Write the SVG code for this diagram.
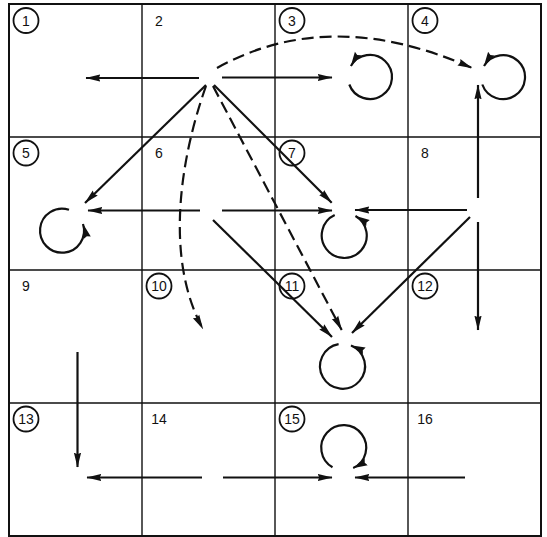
<svg xmlns="http://www.w3.org/2000/svg" width="547" height="537" viewBox="0 0 547 537">
<style>
.grid{fill:none;stroke:#111;stroke-width:1.4}
.border{fill:none;stroke:#111;stroke-width:2}
.lbl{font-family:"Liberation Sans",Arial,sans-serif;font-size:14px;fill:#111;text-anchor:middle}
.ring{fill:none;stroke:#111;stroke-width:1.8}
.c{fill:none;stroke:#111;stroke-width:2.2;marker-end:url(#ah)}
.d{stroke-dasharray:12 6}
</style>
<defs>
<marker id="ah" markerUnits="userSpaceOnUse" viewBox="0 0 14 8" markerWidth="15" markerHeight="8.5" refX="13.5" refY="4" orient="auto">
<path d="M0,0.6 L14,4 L0,7.4 L1.5,4 z" fill="#111"/>
</marker>
</defs>
<rect class="border" x="9" y="4" width="532" height="532"/>
<g class="grid">
<path d="M142,4V536M275,4V536M408,4V536M9,137H541M9,270H541M9,403H541"/>
</g>
<g id="cell1"><circle class="ring" cx="26" cy="20.5" r="12.5"/><text class="lbl" x="26" y="25.5">1</text></g>
<g id="cell2"><text class="lbl" x="159" y="25.5">2</text></g>
<g id="cell3"><circle class="ring" cx="292" cy="20.5" r="12.5"/><text class="lbl" x="292" y="25.5">3</text>
<path class="c" d="M349.3,84.5 A22,22 0 1 0 350.9,66"/></g>
<g id="cell4"><circle class="ring" cx="425" cy="20.5" r="12.5"/><text class="lbl" x="425" y="25.5">4</text>
<path class="c" d="M482.3,84.5 A22,22 0 1 0 484,66"/></g>
<g id="cell5"><circle class="ring" cx="26" cy="153" r="12.5"/><text class="lbl" x="26" y="158">5</text>
<path class="c" d="M69,209.8 A22,22 0 1 0 83,224"/></g>
<g id="cell6"><text class="lbl" x="159" y="158">6</text></g>
<g id="cell7"><circle class="ring" cx="292" cy="153" r="12.5"/><text class="lbl" x="292" y="158">7</text>
<path class="c" d="M334.7,215.1 A22.5,22.5 0 1 0 355.5,216"/></g>
<g id="cell8"><text class="lbl" x="425" y="158">8</text></g>
<g id="cell9"><text class="lbl" x="26" y="291">9</text></g>
<g id="cell10"><circle class="ring" cx="159" cy="286" r="12.5"/><text class="lbl" x="159" y="291">10</text></g>
<g id="cell11"><circle class="ring" cx="292" cy="286" r="12.5"/><text class="lbl" x="292" y="291">11</text>
<path class="c" d="M338.6,344.1 A22.5,22.5 0 1 0 351,345.4"/></g>
<g id="cell12"><circle class="ring" cx="425" cy="286" r="12.5"/><text class="lbl" x="425" y="291">12</text></g>
<g id="cell13"><circle class="ring" cx="26" cy="419" r="12.5"/><text class="lbl" x="26" y="424">13</text></g>
<g id="cell14"><text class="lbl" x="159" y="424">14</text></g>
<g id="cell15"><circle class="ring" cx="292" cy="419" r="12.5"/><text class="lbl" x="292" y="424">15</text>
<path class="c" d="M332.5,467.2 A22.5,22.5 0 1 1 353.2,468.1"/></g>
<g id="cell16"><text class="lbl" x="425" y="424">16</text></g>
<g id="connectors">
<path class="c" d="M199,78 L86,78"/>
<path class="c" d="M222,77.5 L332,77.5"/>
<path class="c" d="M206,85 L85,203"/>
<path class="c d" d="M206,86 C178,165 166,262 203,329"/>
<path class="c d" d="M213,86 L341.7,330"/>
<path class="c" d="M214,85 L331.7,202.7"/>
<path class="c d" d="M217,68 Q330,5 472,68"/>
<path class="c" d="M478,198 L478,85"/>
<path class="c" d="M478,222 L478,330"/>
<path class="c" d="M467,210 L355,210"/>
<path class="c" d="M470,217 L352,333"/>
<path class="c" d="M200,210.5 L88,210.5"/>
<path class="c" d="M222,210.5 L332,210.5"/>
<path class="c" d="M213,220 L332,337"/>
<path class="c" d="M77.5,352 L77.5,467"/>
<path class="c" d="M202,477.5 L87,477.5"/>
<path class="c" d="M223,477.5 L332,477.5"/>
<path class="c" d="M465,477.5 L355,477.5"/>
</g>
</svg>
